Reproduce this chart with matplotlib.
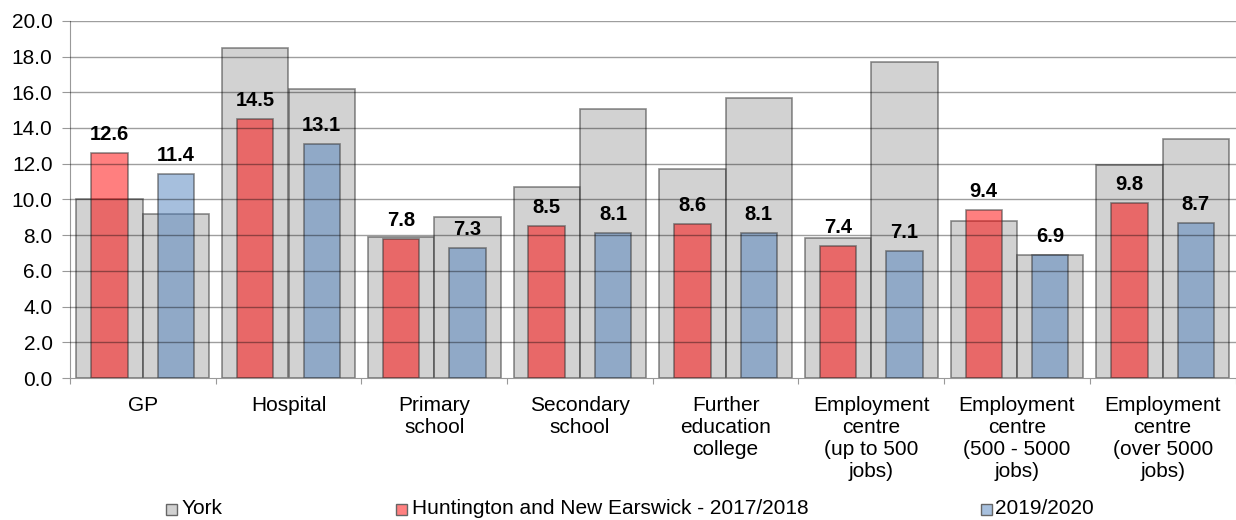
import matplotlib
matplotlib.use("Agg")
import matplotlib.pyplot as plt
import numpy as np
from matplotlib.patches import Rectangle

plt.rcParams['font.family'] = ['Liberation Sans', 'DejaVu Sans']

categories = ["GP", "Hospital", "Primary\nschool", "Secondary\nschool",
              "Further\neducation\ncollege", "Employment\ncentre\n(up to 500\njobs)",
              "Employment\ncentre\n(500 - 5000\njobs)", "Employment\ncentre\n(over 5000\njobs)"]
york_2017 = [10.0, 18.45, 7.9, 10.7, 11.7, 7.85, 8.8, 11.9]
york_2019 = [9.2, 16.2, 9.0, 15.05, 15.7, 17.7, 6.9, 13.4]
hne_2017 = [12.6, 14.5, 7.8, 8.5, 8.6, 7.4, 9.4, 9.8]
hne_2019 = [11.4, 13.1, 7.3, 8.1, 8.1, 7.1, 6.9, 8.7]
legend_labels = ["York", "Huntington and New Earswick - 2017/2018", "2019/2020"]
yticks = np.arange(0, 20.1, 2.0)

fig = plt.figure(figsize=(12.36, 5.2), dpi=100)
ax = fig.add_axes([0.0566, 0.273, 0.943, 0.687])

x = np.arange(len(categories))
off = 0.228
gw = 0.455
cw = 0.25
grey = (0.65, 0.65, 0.65, 0.5)
red = (1.0, 0.0, 0.0, 0.5)
blue = (0.31, 0.506, 0.741, 0.5)
edge = (0.2, 0.2, 0.2, 0.55)

ax.bar(x - off, york_2017, width=gw, color=grey, edgecolor=edge, linewidth=1.2, zorder=1)
ax.bar(x + off, york_2019, width=gw, color=grey, edgecolor=edge, linewidth=1.2, zorder=1)
ax.bar(x - off, hne_2017, width=cw, color=red, edgecolor=edge, linewidth=1.2, zorder=2)
ax.bar(x + off, hne_2019, width=cw, color=blue, edgecolor=edge, linewidth=1.2, zorder=2)

for xi, v in zip(x - off, hne_2017):
    ax.text(xi, v + 0.5, f"{v:.1f}", ha='center', va='bottom', fontsize=14.5,
            fontweight='bold', zorder=5)
for xi, v in zip(x + off, hne_2019):
    ax.text(xi, v + 0.5, f"{v:.1f}", ha='center', va='bottom', fontsize=14.5,
            fontweight='bold', zorder=5)

ax.set_ylim(0, 20)
ax.set_xlim(-0.5, len(categories) - 0.5)
ax.set_yticks(yticks)
ax.set_yticklabels([f"{t:.1f}" for t in yticks], fontsize=15)
for yt in yticks[1:]:
    ax.axhline(yt, color=(0, 0, 0, 0.38), linewidth=1.0, zorder=3)

ax.set_xticks(np.arange(-0.5, len(categories) + 0.5, 1.0))
ax.set_xticklabels([])
ax.set_xticks(x, minor=True)
ax.set_xticklabels(categories, minor=True, fontsize=15, linespacing=1.2)
ax.tick_params(axis='x', which='minor', length=0, pad=13)
ax.tick_params(axis='x', which='major', length=4, color='#999999', direction='out')
ax.tick_params(axis='y', length=6, color='#999999', direction='out', pad=6.5)

for s in ['top', 'right']:
    ax.spines[s].set_visible(False)
ax.spines['left'].set_color('#999999')
ax.spines['bottom'].set_color('#999999')

# legend
entries = [(171, 182, legend_labels[0], (0.82, 0.82, 0.82)),
           (401, 412, legend_labels[1], (1.0, 0.5, 0.5)),
           (986, 995, legend_labels[2], (0.655, 0.753, 0.87))]
W, H = 1236, 520
for mx, tx, lab, col in entries:
    fig.add_artist(Rectangle(((mx - 5.5) / W, 1 - 515 / H), 11 / W, 11 / H,
                             transform=fig.transFigure, facecolor=col,
                             edgecolor='#666666', linewidth=1.0))
    fig.text(tx / W, 1 - 509 / H, lab, fontsize=15, va='center', ha='left')

fig.savefig("out.png", dpi=100)
